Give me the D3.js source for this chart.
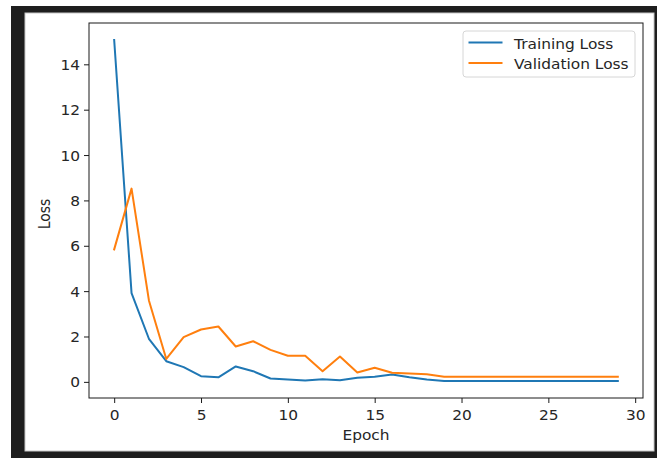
<!DOCTYPE html>
<html>
<head>
<meta charset="utf-8">
<script src="https://d3js.org/d3.v7.min.js"></script>
<style>
  body { margin: 0; background: #fff; }
  svg { display: block; }
  text { font-family: "DejaVu Sans", sans-serif; fill: #262626; }
</style>
</head>
<body>
<div id="chart"></div>
<script>
// data
var epochs = [0, 1, 2, 3, 4, 5, 6, 7, 8, 9, 10, 11, 12, 13, 14, 15, 16, 17, 18, 19, 20, 21, 22, 23, 24, 25, 26, 27, 28, 29];
var trainLoss = [15.07, 3.91, 1.90, 0.91, 0.65, 0.25, 0.20, 0.68, 0.47, 0.15, 0.10, 0.06, 0.12, 0.07, 0.18, 0.23, 0.32, 0.20, 0.10, 0.04,
                 0.04, 0.04, 0.04, 0.04, 0.04, 0.04, 0.04, 0.04, 0.04, 0.04];
var valLoss = [5.84, 8.52, 3.59, 1.01, 1.97, 2.31, 2.44, 1.56, 1.79, 1.41, 1.15, 1.15, 0.47, 1.12, 0.41, 0.62, 0.40, 0.37, 0.34, 0.23,
               0.23, 0.23, 0.23, 0.23, 0.23, 0.23, 0.23, 0.23, 0.23, 0.23];
var xTicks = [0, 5, 10, 15, 20, 25, 30];
var yTicks = [0, 2, 4, 6, 8, 10, 12, 14];
var seriesNames = ["Training Loss", "Validation Loss"];
var seriesColors = ["#1f77b4", "#ff7f0e"];

var W = 657, H = 458;
var plotL = 89, plotR = 643, plotT = 23, plotB = 398;
var sx = 1.1; // screenshot is a bit wider than tall

var svg = d3.select("#chart").append("svg")
    .attr("width", W)
    .attr("height", H);

// dark frame round the screenshot
svg.append("rect").attr("x", 11).attr("y", 6).attr("width", W - 11).attr("height", H - 6).attr("fill", "#1e1e1e");
svg.append("rect").attr("x", 25).attr("y", 13).attr("width", 629).attr("height", 438)
    .attr("fill", "#fff").attr("stroke", "#c8c8c8").attr("stroke-width", 1);

// matplotlib style 5% margins
var xMin = d3.min(epochs), xMax = d3.max(epochs);
var xPad = (xMax - xMin) * 0.05;
var allVals = trainLoss.concat(valLoss);
var yMin = d3.min(allVals), yMax = d3.max(allVals);
var yPad = (yMax - yMin) * 0.05;

var x = d3.scaleLinear().domain([xMin - xPad, xMax + xPad]).range([plotL, plotR]);
var y = d3.scaleLinear().domain([yMin - yPad, yMax + yPad]).range([plotB, plotT]);

var gx = svg.append("g")
    .attr("transform", "translate(0," + plotB + ")")
    .call(d3.axisBottom(x).tickValues(xTicks).tickSize(5).tickPadding(7).tickFormat(d3.format("d")));
var gy = svg.append("g")
    .attr("transform", "translate(" + plotL + ",0)")
    .call(d3.axisLeft(y).tickValues(yTicks).tickSize(5).tickPadding(3.2).tickFormat(d3.format("d")));

[gx, gy].forEach(function (g) {
    g.select(".domain").remove();
    g.selectAll(".tick line").attr("stroke", "#1a1a1a");
    g.selectAll(".tick text")
        .attr("fill", "#262626")
        .style("font-size", "14px")
        .style("font-family", "DejaVu Sans, sans-serif")
        .attr("transform", "scale(" + sx + ",1)");
});
gy.selectAll(".tick text").attr("dy", "0.36em");

// lines
var line = d3.line()
    .x(function (d, i) { return x(epochs[i]); })
    .y(function (d) { return y(d); });

[trainLoss, valLoss].forEach(function (s, i) {
    svg.append("path")
        .datum(s)
        .attr("d", line)
        .attr("fill", "none")
        .attr("stroke", seriesColors[i])
        .attr("stroke-width", 2)
        .attr("stroke-linejoin", "round")
        .attr("stroke-linecap", "square");
});

// spines
svg.append("rect")
    .attr("x", plotL).attr("y", plotT)
    .attr("width", plotR - plotL).attr("height", plotB - plotT)
    .attr("fill", "none").attr("stroke", "#1a1a1a").attr("stroke-width", 1);

// axis labels
svg.append("text")
    .attr("transform", "translate(" + ((plotL + plotR) / 2) + ",440) scale(" + sx + ",1)")
    .attr("text-anchor", "middle")
    .style("font-size", "14px")
    .text("Epoch");
svg.append("text")
    .attr("transform", "translate(49.5,214) rotate(-90) scale(1," + sx + ")")
    .attr("text-anchor", "middle")
    .style("font-size", "14px")
    .text("Loss");

// legend
var lg = svg.append("g");
lg.append("rect")
    .attr("x", 463).attr("y", 31)
    .attr("width", 172).attr("height", 46)
    .attr("rx", 3)
    .attr("fill", "#fff").attr("fill-opacity", 0.8)
    .attr("stroke", "#d6d6d6").attr("stroke-width", 1);
seriesNames.forEach(function (name, i) {
    var cy = 42.5 + i * 20.5;
    lg.append("line")
        .attr("x1", 468.5).attr("x2", 502.5)
        .attr("y1", cy).attr("y2", cy)
        .attr("stroke", seriesColors[i]).attr("stroke-width", 2);
    lg.append("text")
        .attr("transform", "translate(514," + (cy + 6) + ") scale(" + sx + ",1)")
        .style("font-size", "14px")
        .text(name);
});
</script>
</body>
</html>
